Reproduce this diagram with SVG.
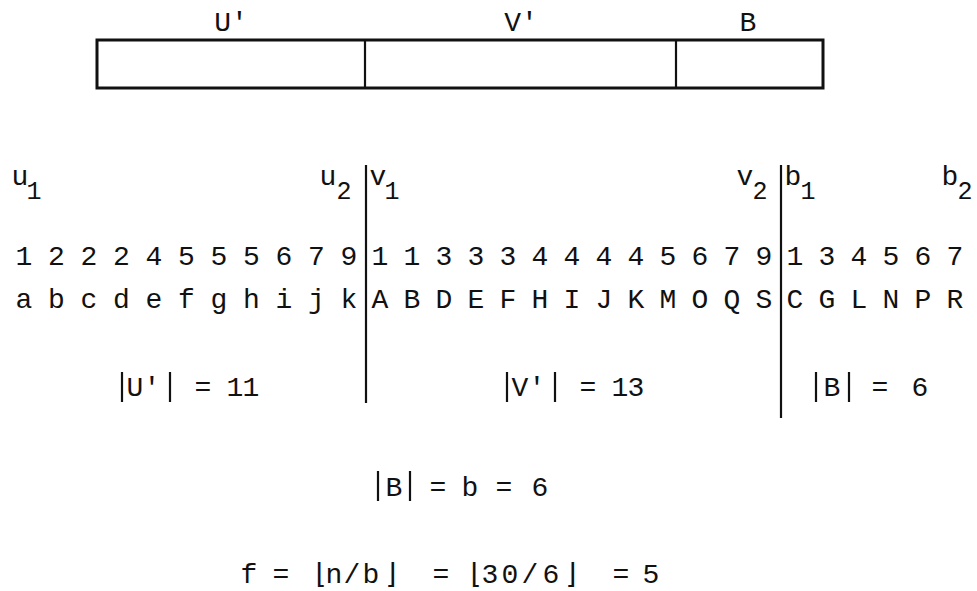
<svg xmlns="http://www.w3.org/2000/svg" width="977" height="591" viewBox="0 0 977 591">
<style>
text{font-family:"Liberation Mono","DejaVu Sans Mono","Courier New",monospace;font-size:28px;fill:#111;text-anchor:middle}
.sub{font-size:25px}
.ln{stroke:#111;stroke-width:2.2;fill:none}
.box{stroke:#111;stroke-width:3;fill:#fff}
</style>
<rect width="977" height="591" fill="#fff"/>
<g id="record">
<rect class="box" x="97" y="40" width="726" height="48"/>
<line class="ln" x1="365" y1="40" x2="365" y2="88"/>
<line class="ln" x1="676" y1="40" x2="676" y2="88"/>
<text x="231" y="31">U'</text>
<text x="521" y="31">V'</text>
<text x="748" y="31">B</text>
</g>
<g id="dividers">
<line class="ln" x1="366" y1="165" x2="366" y2="403"/>
<line class="ln" x1="781" y1="165" x2="781" y2="418"/>
</g>
<g id="bounds">
<text x="20" y="185">u</text><text class="sub" x="34" y="199">1</text>
<text x="328" y="185">u</text><text class="sub" x="344" y="199">2</text>
<text x="378" y="185">v</text><text class="sub" x="392" y="199">1</text>
<text x="745" y="185">v</text><text class="sub" x="760" y="199">2</text>
<text x="793" y="185">b</text><text class="sub" x="808" y="199">1</text>
<text x="950" y="185">b</text><text class="sub" x="965" y="199">2</text>
</g>
<g id="U-part">
<text x="24 56.5 89 121.5 154 186.5 219 251.5 284 316.5 349" y="265">12224555679</text>
<text x="24 56.5 89 121.5 154 186.5 219 251.5 284 316.5 349" y="308">abcdefghijk</text>
<line class="ln" x1="122" y1="372" x2="122" y2="402"/>
<line class="ln" x1="170" y1="372" x2="170" y2="402"/>
<text x="135 152" y="396">U'</text>
<text x="203 235 251" y="396">=11</text>
</g>
<g id="V-part">
<text x="380 412 444 476 508 540 572 604 636 668 700 732 764" y="265">1133344445679</text>
<text x="380 412 444 476 508 540 572 604 636 668 700 732 764" y="308">ABDEFHIJKMOQS</text>
<line class="ln" x1="507" y1="372" x2="507" y2="402"/>
<line class="ln" x1="555" y1="372" x2="555" y2="402"/>
<text x="520 537" y="396">V'</text>
<text x="588 620 636" y="396">=13</text>
</g>
<g id="B-part">
<text x="795 827 859 891 923 955" y="265">134567</text>
<text x="795 827 859 891 923 955" y="308">CGLNPR</text>
<line class="ln" x1="816" y1="372" x2="816" y2="402"/>
<line class="ln" x1="849" y1="372" x2="849" y2="402"/>
<text x="832" y="396">B</text>
<text x="880 920" y="396">=6</text>
</g>
<g id="b-eq">
<line class="ln" x1="378" y1="471" x2="378" y2="501"/>
<line class="ln" x1="410" y1="471" x2="410" y2="501"/>
<text x="394" y="496">B</text>
<text x="438 470 504 540" y="496">=b=6</text>
</g>
<g id="f-eq">
<text x="249 281 320 334 352 371 392 441 475 490 510 530 551 572 621 651" y="583">f=⌊n/b⌋=⌊30/6⌋=5</text>
</g>
</svg>
